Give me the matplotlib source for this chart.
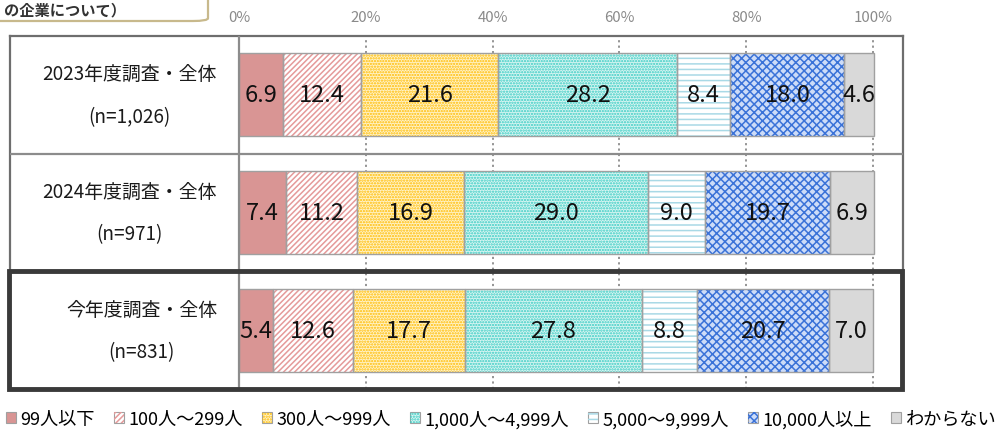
import matplotlib
matplotlib.use("Agg")
import matplotlib.pyplot as plt
from matplotlib.patches import Patch, Rectangle, FancyBboxPatch
from matplotlib.legend_handler import HandlerTuple

plt.rcParams['font.family'] = ['Noto Sans CJK JP', 'DejaVu Sans']
plt.rcParams['hatch.linewidth'] = 1.1

# ---------------- data ----------------
categories = ["2023年度調査・全体\n(n=1,026)",
              "2024年度調査・全体\n(n=971)",
              "今年度調査・全体\n(n=831)"]
series_names = ["99人以下", "100人～299人", "300人～999人", "1,000人～4,999人",
                "5,000～9,999人", "10,000人以上", "わからない"]
s_99 = [6.9, 7.4, 5.4]
s_100_299 = [12.4, 11.2, 12.6]
s_300_999 = [21.6, 16.9, 17.7]
s_1000_4999 = [28.2, 29.0, 27.8]
s_5000_9999 = [8.4, 9.0, 8.8]
s_10000 = [18.0, 19.7, 20.7]
s_unknown = [4.6, 6.9, 7.0]
series_values = [s_99, s_100_299, s_300_999, s_1000_4999, s_5000_9999, s_10000, s_unknown]
xticks = [0, 20, 40, 60, 80, 100]
xtick_labels = ["0%", "20%", "40%", "60%", "80%", "100%"]
title_fragment = "の企業について）"

# ---------------- styles ----------------
faces = ['#d99594', '#ffffff', '#fff3c8', '#d8f5f2', '#ffffff', '#cddcf8', '#d9d9d9']
hatches = [None, '//////', '......', '......', '---', 'xxxx', None]
hatch_cols = [None, '#e59a9a', '#ffbb00', '#38ccc3', '#a9d9e6', '#3a72d8', None]
edge_col = '#a0a0a0'

W, H = 1005, 435
def fx(px): return px / W
def fy(py): return 1 - py / H

fig = plt.figure(figsize=(W / 100, H / 100), dpi=100)

# title fragment box (top-left, cut off by the figure edge)
box = FancyBboxPatch((fx(-30), fy(22)), fx(238), 0.2,
                     boxstyle="round,pad=0,rounding_size=0.015",
                     transform=fig.transFigure, facecolor='white',
                     edgecolor='#c8b98c', linewidth=1.6, mutation_aspect=H / W)
fig.patches.append(box)
fig.text(fx(4), fy(10), title_fragment, fontsize=11, fontweight='bold',
         color='#333333', ha='left', va='center')

# main axes (whole table)
scale = 6.34  # px per %
x0px = 239
xmin = (10 - x0px) / scale
xmax = (903 - x0px) / scale
ax = fig.add_axes([fx(10), fy(390), fx(903) - fx(10), (390 - 37) / H])
ax.set_xlim(xmin, xmax)
ax.set_ylim(2.5, -0.5)

ypos = list(range(len(categories)))
bar_h = 0.705
lefts = [0.0] * len(categories)
for vals, fc, hat, hc in zip(series_values, faces, hatches, hatch_cols):
    ax.barh(ypos, vals, left=lefts, height=bar_h, color=fc, linewidth=0, zorder=2)
    if hat:
        ax.barh(ypos, vals, left=lefts, height=bar_h, color='none', edgecolor=hc,
                hatch=hat, linewidth=0, zorder=3)
    ax.barh(ypos, vals, left=lefts, height=bar_h, fill=False, edgecolor=edge_col,
            linewidth=1.0, zorder=4)
    for y, v, l in zip(ypos, vals, lefts):
        ax.text(l + v / 2, y, f"{v:.1f}", ha='center', va='center',
                fontsize=17, color='#111111', zorder=6)
    lefts = [l + v for l, v in zip(lefts, vals)]

# grid lines
for t in xticks[1:]:
    ax.axvline(t, color='#8c8c8c', lw=1.3, linestyle=(0, (1.2, 1.8)), zorder=1)
ax.axvline(0, color='#8c8c8c', lw=1.6, zorder=5)
ax.axhline(0.5, color='#8c8c8c', lw=1.6, zorder=5)

# category labels
for y, c in zip(ypos, categories):
    ax.text((217 - x0px) / scale, y, c, ha='right', va='center', multialignment='center',
            fontsize=13.6, color='#1a1a1a', linespacing=2.35)

# table border
for s in ax.spines.values():
    s.set_color('#6e6e6e')
    s.set_linewidth(1.6)
ax.add_patch(Rectangle((xmin - 0.15, 1.5), xmax - xmin, 1.0, fill=False,
                       edgecolor='#3a3a3a', linewidth=3.5, zorder=7, clip_on=False))

ax.xaxis.tick_top()
ax.set_xticks(xticks)
ax.set_xticklabels(xtick_labels, fontsize=10.8, color='#8a8a8a')
ax.tick_params(axis='x', length=0, pad=9)
ax.set_yticks([])

# legend
handles = []
for fc, hat, hc in zip(faces, hatches, hatch_cols):
    base = Patch(facecolor=fc, edgecolor='#a0a0a0', linewidth=0.8)
    if hat:
        over = Patch(facecolor='none', edgecolor=hc, hatch=hat, linewidth=0)
        handles.append((base, over))
    else:
        handles.append(base)
fig.legend(handles, series_names, ncol=7, loc='center',
           bbox_to_anchor=(fx(501), fy(420)), frameon=False,
           handlelength=0.55, handleheight=0.55, handletextpad=0.25,
           columnspacing=1.05, fontsize=13.1, borderpad=0, borderaxespad=0,
           handler_map={tuple: HandlerTuple(ndivide=1)})

fig.savefig("out.png", dpi=100)
